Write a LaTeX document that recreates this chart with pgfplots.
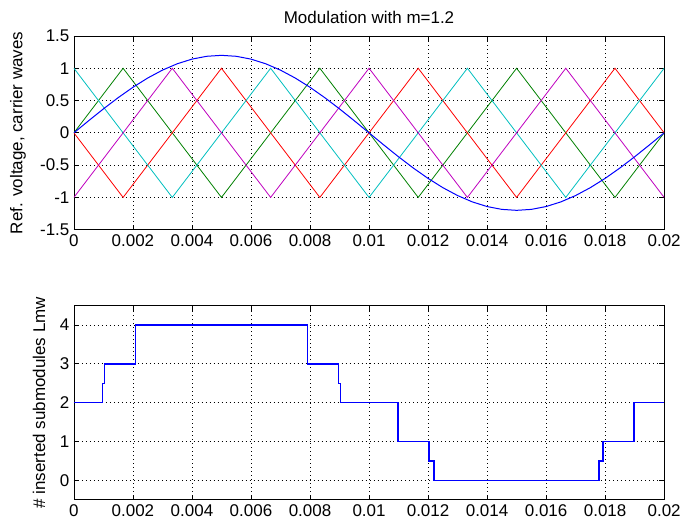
\documentclass[border=0pt]{standalone}
\usepackage{pgfplots}
\pgfplotsset{compat=1.18}
\usepackage{fontspec}
\setmainfont{Liberation Sans}
\definecolor{mblue}{rgb}{0,0,1}
\definecolor{mgreen}{rgb}{0,0.5,0}
\definecolor{mred}{rgb}{1,0,0}
\definecolor{mcyan}{rgb}{0,0.75,0.75}
\definecolor{mmag}{rgb}{0.75,0,0.75}
\pgfplotsset{
  mstyle/.style={
    scale only axis,
    width=591pt,
    xmin=0, xmax=0.02,
    xtick={0,0.002,0.004,0.006,0.008,0.01,0.012,0.014,0.016,0.018,0.02},
    xticklabels={0,0.002,0.004,0.006,0.008,0.01,0.012,0.014,0.016,0.018,0.02},
    scaled x ticks=false,
    tick align=inside,
    major tick length=5pt,
    tick style={black, line width=0.8pt},
    axis line style={black, line width=0.8pt},
    grid=major,
    major grid style={black, line width=0.8pt, dash pattern=on 1pt off 3pt},
    ticklabel style={font=\fontsize{17}{19}\selectfont},
    /pgf/number format/assume math mode=true,
    label style={font=\fontsize{17}{19}\selectfont},
    xticklabel style={yshift=-1pt},
    yticklabel style={xshift=-1pt},
  }
}
\begin{document}
\begin{tikzpicture}
\pgfplotsset{set layers=standard}
\path (0pt,0pt) rectangle (684pt,-528pt);
\begin{axis}[mstyle,
  at={(74pt,-230pt)}, anchor=south west,
  height=194pt,
  ymin=-1.5, ymax=1.5,
  ytick={-1.5,-1,-0.5,0,0.5,1,1.5},
  yticklabels={-1.5,-1,-0.5,0,0.5,1,1.5},
  title={Modulation with m=1.2},
  title style={font=\fontsize{17}{19}\selectfont, at={(0.5,1)}, anchor=south, yshift=3pt},
  ylabel={Ref. voltage, carrier waves},
  ylabel style={at={(axis description cs:-0.0948,0.5)}, anchor=center},
]
\addplot[mgreen, line width=0.8pt] coordinates {
(0,0) (0.0016667,1) (0.005,-1) (0.0083333,1) (0.0116667,-1) (0.015,1) (0.0183333,-1) (0.02,0)
};
\addplot[mred, line width=0.8pt] coordinates {
(0,0) (0.0016667,-1) (0.005,1) (0.0083333,-1) (0.0116667,1) (0.015,-1) (0.0183333,1) (0.02,0)
};
\addplot[mcyan, line width=0.8pt] coordinates {
(0,1) (0.0033333,-1) (0.0066667,1) (0.01,-1) (0.0133333,1) (0.0166667,-1) (0.02,1)
};
\addplot[mmag, line width=0.8pt] coordinates {
(0,-1) (0.0033333,1) (0.0066667,-1) (0.01,1) (0.0133333,-1) (0.0166667,1) (0.02,-1)
};
\addplot[mblue, line width=1pt] coordinates {
(0,0) (0.0005,0.18772) (0.001,0.37082) (0.0015,0.54479) (0.002,0.70534) (0.0025,0.84853)
(0.003,0.97082) (0.0035,1.06921) (0.004,1.14127) (0.0045,1.18523) (0.005,1.2)
(0.0055,1.18523) (0.006,1.14127) (0.0065,1.06921) (0.007,0.97082) (0.0075,0.84853)
(0.008,0.70534) (0.0085,0.54479) (0.009,0.37082) (0.0095,0.18772) (0.01,0)
(0.0105,-0.18772) (0.011,-0.37082) (0.0115,-0.54479) (0.012,-0.70534) (0.0125,-0.84853)
(0.013,-0.97082) (0.0135,-1.06921) (0.014,-1.14127) (0.0145,-1.18523) (0.015,-1.2)
(0.0155,-1.18523) (0.016,-1.14127) (0.0165,-1.06921) (0.017,-0.97082) (0.0175,-0.84853)
(0.018,-0.70534) (0.0185,-0.54479) (0.019,-0.37082) (0.0195,-0.18772) (0.02,0)
};
\end{axis}
\begin{axis}[mstyle,
  at={(74pt,-500.5pt)}, anchor=south west,
  height=194.5pt,
  ymin=-0.5, ymax=4.5,
  ytick={0,1,2,3,4},
  ylabel={\# inserted submodules Lmw},
  ylabel style={at={(axis description cs:-0.0592,0.5)}, anchor=center},
]
\addplot[mblue, line width=1.5pt] coordinates {
(0,2) (0.00097,2) (0.00097,2.5) (0.00104,2.5) (0.00104,3) (0.00208,3) (0.00208,4)
(0.00792,4) (0.00792,3) (0.00897,3) (0.00897,2.5) (0.00904,2.5) (0.00904,2)
(0.01099,2) (0.01099,1) (0.01203,1) (0.01203,0.5) (0.0122,0.5) (0.0122,0)
(0.0178,0) (0.0178,0.5) (0.01792,0.5) (0.01792,1) (0.01897,1) (0.01897,2) (0.02,2)
};
\end{axis}
\end{tikzpicture}
\end{document}
